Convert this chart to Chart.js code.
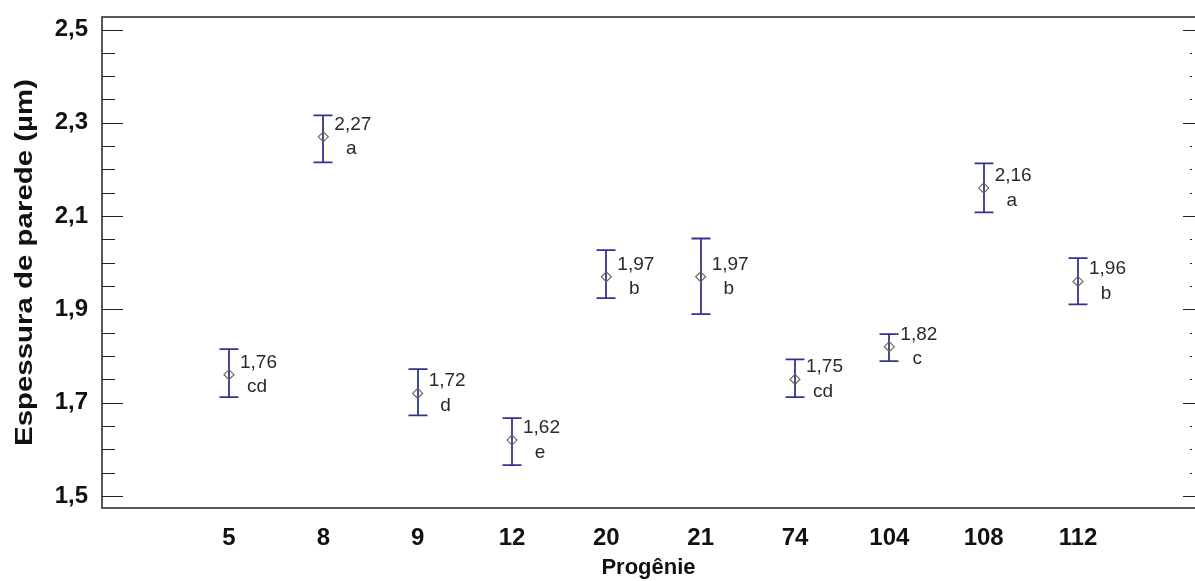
<!DOCTYPE html>
<html>
<head>
<meta charset="utf-8">
<script src="https://cdn.jsdelivr.net/npm/chart.js@4/dist/chart.umd.min.js"></script>
<style>
  html, body { margin: 0; padding: 0; background: #ffffff; }
  #wrap { width: 1195px; height: 581px; }
</style>
</head>
<body>
<div id="wrap"><canvas id="chart" width="1195" height="581"></canvas></div>
<script>
// Progenies on the x axis
const categories = ['5', '8', '9', '12', '20', '21', '74', '104', '108', '112'];
// Mean wall thickness (µm)
const means = [1.76, 2.27, 1.72, 1.62, 1.97, 1.97, 1.75, 1.82, 2.16, 1.96];
// Interval limits around each mean
const lows  = [1.712, 2.215, 1.673, 1.566, 1.924, 1.890, 1.712, 1.789, 2.108, 1.911];
const highs = [1.815, 2.316, 1.772, 1.667, 2.027, 2.052, 1.793, 1.847, 2.213, 2.010];
// Grouping letters
const letters = ['cd', 'a', 'd', 'e', 'b', 'b', 'cd', 'c', 'a', 'b'];
// Y axis labelled ticks
const yTickValues = [1.5, 1.7, 1.9, 2.1, 2.3, 2.5];
const yTickLabels = ['1,5', '1,7', '1,9', '2,1', '2,3', '2,5'];
const yTitle = 'Espessura de parede (µm)';
const xTitle = 'Progênie';

const FONT = "'Liberation Sans', Arial, sans-serif";
const fmt = v => v.toFixed(2).replace('.', ',');

// Frame, tick marks, error bars, annotations and the vertical title
const decorations = {
  id: 'decorations',
  beforeDatasetsDraw(chart) {
    const { ctx, chartArea: a, scales: { x, y } } = chart;
    ctx.save();
    // frame (top, left, bottom)
    ctx.strokeStyle = '#222';
    ctx.lineWidth = 1.5;
    ctx.beginPath();
    ctx.moveTo(a.right + 2, a.top);
    ctx.lineTo(a.left, a.top);
    ctx.lineTo(a.left, a.bottom);
    ctx.lineTo(a.right + 2, a.bottom);
    ctx.stroke();
    // major and minor ticks on left and right
    ctx.lineWidth = 1.2;
    for (let k = 0; k <= 20; k++) {
      const v = 1.5 + k * 0.05;
      const py = Math.round(y.getPixelForValue(v)) + 0.5;
      const major = k % 4 === 0;
      ctx.beginPath();
      ctx.moveTo(a.left, py);
      ctx.lineTo(a.left + (major ? 21 : 13), py);
      if (major) {
        ctx.moveTo(a.right - 12, py);
        ctx.lineTo(a.right, py);
      } else {
        ctx.moveTo(a.right - 5, py);
        ctx.lineTo(a.right - 3, py);
      }
      ctx.stroke();
    }
    // error bars
    ctx.strokeStyle = '#34348f';
    ctx.lineWidth = 1.8;
    means.forEach((m, i) => {
      const px = Math.round(x.getPixelForValue(i + 1));
      const pl = y.getPixelForValue(lows[i]);
      const ph = y.getPixelForValue(highs[i]);
      ctx.beginPath();
      ctx.moveTo(px, ph); ctx.lineTo(px, pl);
      ctx.moveTo(px - 9.5, ph); ctx.lineTo(px + 9.5, ph);
      ctx.moveTo(px - 9.5, pl); ctx.lineTo(px + 9.5, pl);
      ctx.stroke();
    });
    ctx.restore();
  },
  afterDatasetsDraw(chart) {
    const { ctx, chartArea: a, scales: { x, y } } = chart;
    ctx.save();
    ctx.fillStyle = '#2a2a2a';
    ctx.font = '19px ' + FONT;
    ctx.textBaseline = 'alphabetic';
    means.forEach((m, i) => {
      const px = x.getPixelForValue(i + 1);
      const py = y.getPixelForValue(m);
      ctx.textAlign = 'left';
      ctx.fillText(fmt(m), px + 11, py - 7);
      ctx.textAlign = 'center';
      ctx.fillText(letters[i], px + 28, py + 17.5);
    });
    // vertical axis title, stretched along its length
    ctx.fillStyle = '#111';
    ctx.font = 'bold 23px ' + FONT;
    ctx.textAlign = 'center';
    ctx.textBaseline = 'middle';
    const w = ctx.measureText(yTitle).width;
    const span = 367;
    ctx.translate(26, (a.top + a.bottom) / 2);
    ctx.rotate(-Math.PI / 2);
    ctx.scale(span / w, 1);
    ctx.fillText(yTitle, 0, 0);
    ctx.restore();
  }
};

new Chart(document.getElementById('chart'), {
  type: 'scatter',
  data: {
    datasets: [{
      data: means.map((m, i) => ({ x: i + 1, y: m })),
      pointStyle: 'rectRot',
      radius: 5,
      borderWidth: 1.1,
      borderColor: '#66664a',
      backgroundColor: 'rgba(255,255,255,0)'
    }]
  },
  options: {
    responsive: false,
    devicePixelRatio: 1,
    animation: false,
    layout: { autoPadding: false, padding: { top: 17, right: 0, bottom: 0, left: 0 } },
    plugins: { legend: { display: false }, tooltip: { enabled: false } },
    scales: {
      x: {
        type: 'linear',
        min: -0.346,
        max: 11.24,
        grid: { display: false, drawTicks: false },
        border: { display: false },
        afterBuildTicks: s => { s.ticks = categories.map((c, i) => ({ value: i + 1 })); },
        afterFit: s => { s.height = 73; s.paddingLeft = 0; s.paddingRight = 0; },
        ticks: {
          autoSkip: false,
          maxRotation: 0,
          padding: 16,
          color: '#111',
          font: { family: FONT, size: 24, weight: 'bold' },
          callback: v => categories[v - 1]
        },
        title: {
          display: true,
          text: xTitle,
          color: '#111',
          padding: { top: 0, bottom: 0 },
          font: { family: FONT, size: 22, weight: 'bold' }
        }
      },
      y: {
        min: 1.4743,
        max: 2.5268,
        grid: { display: false, drawTicks: false },
        border: { display: false },
        afterBuildTicks: s => { s.ticks = yTickValues.map(v => ({ value: v })); },
        afterFit: s => { s.width = 102; s.paddingTop = 0; s.paddingBottom = 0; },
        ticks: {
          padding: 14,
          color: '#111',
          font: { family: FONT, size: 24, weight: 'bold' },
          callback: v => yTickLabels[yTickValues.findIndex(t => Math.abs(t - v) < 1e-6)]
        },
        title: { display: false }
      }
    }
  },
  plugins: [decorations]
});
</script>
</body>
</html>
